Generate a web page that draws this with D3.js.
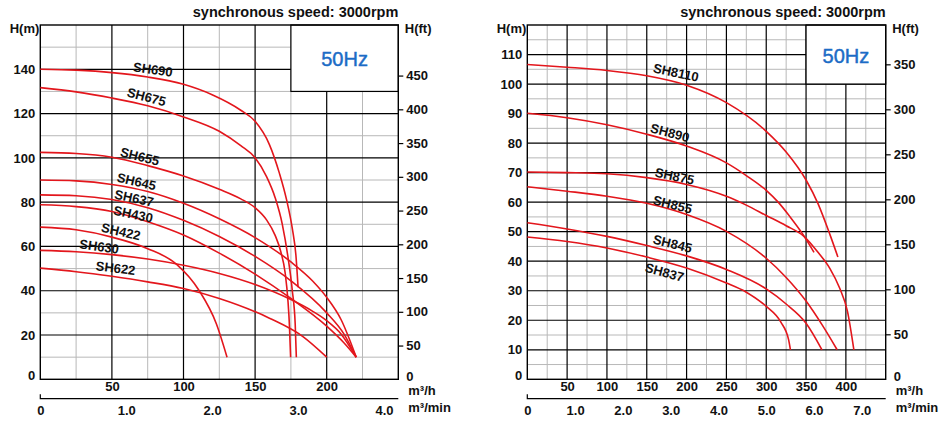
<!DOCTYPE html>
<html><head><meta charset="utf-8">
<script src="https://cdn.jsdelivr.net/npm/d3@7"></script>
<style>
body{margin:0;background:#fff}
svg{display:block}
text{font-family:"Liberation Sans",Arial,Helvetica,sans-serif;fill:#111}
</style>
</head><body>
<svg id="c" width="950" height="425"></svg>
<script>
// ---------- DATA ----------
const titleText = "synchronous speed: 3000rpm";
const freqText = "50Hz";

// Left chart: flow (m³/h), head (m)
const leftModels = ["SH690","SH675","SH655","SH645","SH637","SH430","SH422","SH630","SH622"];
const SH690 = [[0,140],[25,139.6],[50,138.5],[75,136.5],[100,133.2],[120,128.5],[140,121.5],[150,116.5],[160,106],[167,93],[172,81],[176,68],[178.5,56],[180,41.6]];
const SH675 = [[0,131.7],[25,129.8],[50,127],[75,123.5],[100,118.5],[125,112],[140,105.5],[150,100],[158,91.5],[164,82],[169,70],[173,55],[176,40],[178,25],[178.8,10]];
const SH655 = [[0,102.5],[25,102],[50,100.3],[75,96.5],[100,91.8],[125,85.8],[140,81.5],[150,77.5],[158,72],[164,65],[168,57.5],[171,48],[173,35],[174,24],[174.8,10]];
const SH645 = [[0,90],[25,89.6],[50,88],[75,84.8],[100,79.5],[125,72.5],[150,64],[175,53],[190,44.5],[200,37],[210,27],[220.6,10]];
const SH637 = [[0,83.3],[25,82.9],[50,81.2],[75,77.5],[100,71.8],[125,64.5],[150,55.5],[175,44.5],[200,30],[212,20.5],[220.6,10]];
const SH430 = [[0,78.8],[25,78],[50,75.8],[75,71.2],[100,65.2],[125,57],[150,47.5],[175,36.5],[200,24],[212,16.5],[220.6,10]];
const SH422 = [[0,68.7],[25,67.5],[50,64.2],[75,59],[95,52],[111,40],[123,25],[130.4,10]];
const SH630 = [[0,58.2],[25,57.6],[50,56.3],[75,54.3],[100,51.5],[125,47.8],[150,42.8],[175,36],[190,30.8],[200,26.5],[210,20.5],[220.6,10]];
const SH622 = [[0,50.2],[25,48.6],[50,46.5],[75,44],[100,41],[125,36.5],[160,27.6],[183.4,19.3],[200,10]];
const leftCurves = [SH690,SH675,SH655,SH645,SH637,SH430,SH422,SH630,SH622];
// label anchor (flow, head) and tilt per model
const leftLabelAt = [[78.6,139.9],[74.2,127.5],[69.5,100.6],[67.2,89.3],[65.5,81.8],[64.9,74.6],[56.3,66.7],[41.1,59.9],[52.6,50.2]];
const leftLabelTilt = [8,15,14,13,12,12,13,8,7];
const leftHeadTicks = [0,20,40,60,80,100,120,140];
const leftFtTicks = [0,50,100,150,200,250,300,350,400,450];
const leftFlowTicks = [50,100,150,200];
const leftMinTicks = [0,1,2,3,4];

// Right chart
const rightModels = ["SH8110","SH890","SH875","SH855","SH845","SH837"];
const SH8110 = [[0,106.6],[50,105.7],[100,104.6],[150,102.8],[200,99.6],[250,93.7],[300,84],[325,77],[350,67.5],[365,59.5],[380,49],[390,41.4]];
const SH890 = [[0,90.1],[50,88.6],[100,86.2],[150,83],[200,79],[250,73.3],[275,69],[300,64],[315,60],[330,55],[345,49.5],[360,43]];
const SH875 = [[0,70.2],[50,70],[100,69.6],[150,68.3],[200,66],[250,62],[275,59],[300,55.5],[325,52],[347,48.5],[365,43],[380,37.5],[392,31],[402,23],[410,10]];
const SH855 = [[0,65.2],[50,63.7],[100,62],[150,59.6],[200,55.8],[250,50.1],[300,41],[325,34.5],[350,26.5],[370,18.5],[389,10]];
const SH845 = [[0,53],[50,50.9],[100,48.4],[150,45.3],[200,41.8],[250,37.2],[300,30.6],[325,25.5],[350,19],[370,10]];
const SH837 = [[0,48.2],[50,46.7],[100,44.5],[150,41.4],[200,37.7],[250,32.6],[275,29.5],[300,24.7],[318,19.5],[328,13.5],[330.4,10]];
const rightCurves = [SH8110,SH890,SH875,SH855,SH845,SH837];
const rightLabelAt = [[186.7,103.9],[179.1,83.5],[184.9,68.8],[182.4,59.2],[182.4,45.9],[172.3,36.2]];
const rightLabelTilt = [12,15,12,14,14,15];
const rightHeadTicks = [0,10,20,30,40,50,60,70,80,90,100,110];
const rightFtTicks = [0,50,100,150,200,250,300,350];
const rightFlowTicks = [50,100,150,200,250,300,350,400];
const rightMinTicks = [0,1,2,3,4,5,6,7];

// ---------- DRAW ----------
const svg = d3.select("#c");
const RED = "#e3161c";
const M_TO_FT = 3.28084;

function panel(o){
  const g = svg.append("g");
  const x = d3.scaleLinear().domain([0,o.xMax]).range([o.x0,o.x1]);
  const y = d3.scaleLinear().domain([0,o.yMax]).range([o.y1,o.y0]);
  const minorX = d3.range(o.xMinor, o.xMax, o.xMinor).filter(v => v % o.xMajor !== 0);
  const minorY = d3.range(o.yMinor, o.yMax, o.yMinor).filter(v => v % o.yMajor !== 0);
  const majorX = d3.range(o.xMajor, o.xMax, o.xMajor);
  const majorY = d3.range(o.yMajor, o.yMax, o.yMajor);
  g.selectAll(".mx").data(minorX).join("line").attr("class","mx")
    .attr("x1",d=>x(d)).attr("x2",d=>x(d)).attr("y1",o.y0).attr("y2",o.y1)
    .attr("stroke","#b8b8b8").attr("stroke-width",1);
  g.selectAll(".my").data(minorY).join("line").attr("class","my")
    .attr("y1",d=>y(d)).attr("y2",d=>y(d)).attr("x1",o.x0).attr("x2",o.x1)
    .attr("stroke","#b8b8b8").attr("stroke-width",1);
  g.selectAll(".Mx").data(majorX).join("line").attr("class","Mx")
    .attr("x1",d=>x(d)).attr("x2",d=>x(d)).attr("y1",o.y0).attr("y2",o.y1)
    .attr("stroke","#000").attr("stroke-width",1.2);
  g.selectAll(".My").data(majorY).join("line").attr("class","My")
    .attr("y1",d=>y(d)).attr("y2",d=>y(d)).attr("x1",o.x0).attr("x2",o.x1)
    .attr("stroke","#000").attr("stroke-width",1.2);
  // 50Hz box
  g.append("rect").attr("x",x(o.boxX)).attr("y",o.y0)
    .attr("width",o.x1 - x(o.boxX)).attr("height",y(o.boxY)-o.y0)
    .attr("fill","#fff").attr("stroke","#000").attr("stroke-width",1.2);
  g.append("text").attr("x",(x(o.boxX)+o.x1)/2).attr("y",(o.y0+y(o.boxY))/2+1)
    .attr("text-anchor","middle").attr("dominant-baseline","central")
    .style("font-size","20px").style("fill","#1c6cc6")
    .style("stroke","#1c6cc6").style("stroke-width","0.45px").text(freqText);
  // frame
  g.append("rect").attr("x",o.x0).attr("y",o.y0).attr("width",o.x1-o.x0).attr("height",o.y1-o.y0)
    .attr("fill","none").attr("stroke","#000").attr("stroke-width",1.4);
  // curves
  const line = d3.line().x(d=>x(d[0])).y(d=>y(d[1])).curve(d3.curveMonotoneX);
  g.selectAll(".curve").data(o.curves).join("path").attr("class","curve")
    .attr("d",line).attr("fill","none").attr("stroke",RED).attr("stroke-width",1.6);
  // model labels
  g.selectAll(".lbl").data(o.models).join("text").attr("class","lbl")
    .attr("transform",(d,i)=>`translate(${x(o.labelAt[i][0])},${y(o.labelAt[i][1])}) rotate(${o.tilt[i]})`)
    .attr("text-anchor","middle").attr("dominant-baseline","central")
    .style("font-size","13px").style("font-weight","bold").text(d=>d);
  // left axis (m)
  const ax = g.append("g").attr("transform",`translate(${o.x0},0)`)
    .call(d3.axisLeft(y).tickValues(o.headTicks).tickSize(0).tickPadding(5));
  ax.select(".domain").remove();
  ax.selectAll("text").style("font-size","13px").style("font-weight","bold")
    .attr("font-family",null).attr("dy",d=> d===0 ? "-0.02em" : "0.32em").style("fill","#111");
  // right axis (ft)
  const yFt = d3.scaleLinear().domain([0,o.yMax*M_TO_FT]).range([o.y1,o.y0]);
  const af = g.append("g").attr("transform",`translate(${o.x1},0)`)
    .call(d3.axisRight(yFt).tickValues(o.ftTicks).tickSize(5).tickPadding(3));
  af.select(".domain").remove();
  af.selectAll("line").attr("stroke","#000").attr("stroke-width",1.2);
  af.selectAll("text").style("font-size","13px").style("font-weight","bold").attr("font-family",null).style("fill","#111");
  af.selectAll(".tick").filter(d=>d===0).select("line").remove();
  af.selectAll(".tick").filter(d=>d===0).select("text").attr("dy","0.1em");
  // bottom m3/h
  const ab = g.append("g").attr("transform",`translate(0,${o.y1})`)
    .call(d3.axisBottom(x).tickValues(o.flowTicks).tickSize(0).tickPadding(2));
  ab.select(".domain").remove();
  ab.selectAll("text").style("font-size","13px").style("font-weight","bold").attr("font-family",null).style("fill","#111");
  // bottom m3/min
  const xm = d3.scaleLinear().domain([0,o.xMax/60]).range([o.x0,o.x1]);
  const yMin = 398.7;
  g.append("path").attr("d",`M${o.x0},${yMin-4.5}V${yMin}H${o.x1}`)
    .attr("fill","none").attr("stroke","#000").attr("stroke-width",1.2);
  const am = g.append("g").attr("transform",`translate(0,${yMin})`)
    .call(d3.axisBottom(xm).tickValues(o.minTicks).tickSize(0).tickPadding(7)
      .tickFormat(d=> d===0 ? "0" : d3.format(".1f")(d)));
  am.select(".domain").remove();
  am.selectAll("text").style("font-size","13px").style("font-weight","bold").attr("font-family",null).style("fill","#111");
  // titles / units
  g.append("text").attr("x",o.x1).attr("y",17).attr("text-anchor","end")
    .style("font-size","14.5px").style("font-weight","bold").text(titleText);
  g.append("text").attr("x",o.x0-1).attr("y",33).attr("text-anchor","end")
    .style("font-size","13px").style("font-weight","bold").text("H(m)");
  g.append("text").attr("x",o.x1+6.5).attr("y",33)
    .style("font-size","13px").style("font-weight","bold").text("H(ft)");
  g.append("text").attr("x",o.x1+10).attr("y",395)
    .style("font-size","13px").style("font-weight","bold").text("m³/h");
  g.append("text").attr("x",o.x1+10).attr("y",411.5)
    .style("font-size","13px").style("font-weight","bold").text("m³/min");
}

panel({x0:40.3,x1:398.3,y0:25,y1:379.3,xMax:250,yMax:160,xMinor:25,xMajor:50,yMinor:10,yMajor:20,
  boxX:175,boxY:130,curves:leftCurves,models:leftModels,labelAt:leftLabelAt,tilt:leftLabelTilt,
  headTicks:leftHeadTicks,ftTicks:leftFtTicks,flowTicks:leftFlowTicks,minTicks:leftMinTicks});
panel({x0:527.3,x1:885.7,y0:25,y1:379.3,xMax:450,yMax:120,xMinor:25,xMajor:50,yMinor:5,yMajor:10,
  boxX:350,boxY:100,curves:rightCurves,models:rightModels,labelAt:rightLabelAt,tilt:rightLabelTilt,
  headTicks:rightHeadTicks,ftTicks:rightFtTicks,flowTicks:rightFlowTicks,minTicks:rightMinTicks});
</script>
</body></html>
